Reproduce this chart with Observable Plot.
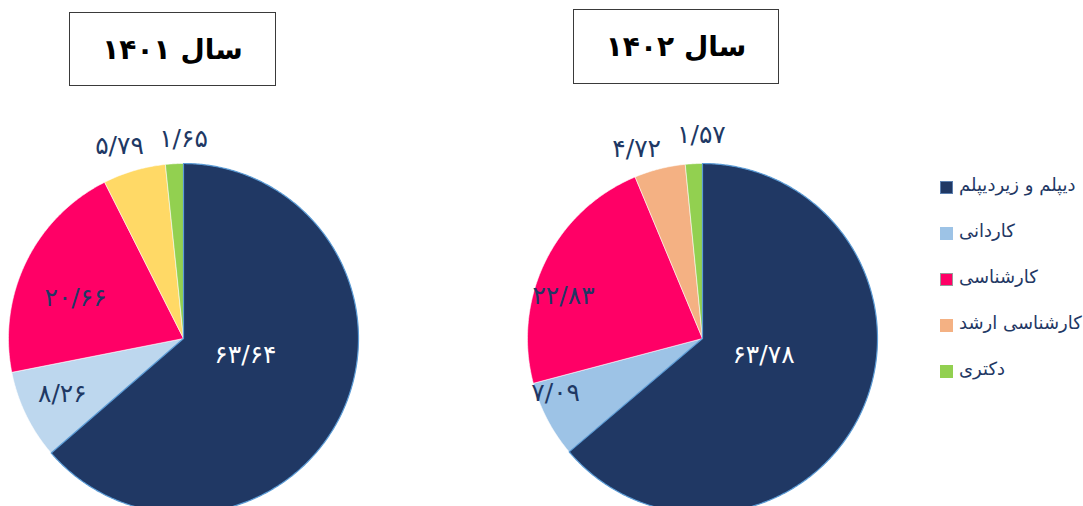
<!DOCTYPE html>
<html><head><meta charset="utf-8">
<script src="https://cdn.jsdelivr.net/npm/d3@7"></script>
<script src="https://cdn.jsdelivr.net/npm/@observablehq/plot@0.6"></script>
<style>
html,body{margin:0;padding:0;background:#fff;overflow:hidden;}
#wrap{position:relative;width:1083px;height:506px;overflow:hidden;font-family:"DejaVu Sans",sans-serif;}
#wrap svg{position:absolute;left:0;top:0;}
.title{position:absolute;border:1px solid #3a3a3a;background:#fff;display:flex;align-items:center;justify-content:center;font-weight:bold;font-size:28px;color:#000;direction:rtl;}
#legend{position:absolute;left:940px;top:174px;}
.item{height:46px;display:flex;align-items:flex-start;color:#1f3864;font-size:18px;}
.sw{width:13px;height:13px;margin-top:7px;margin-right:6px;box-sizing:border-box;}
.lt{direction:rtl;white-space:nowrap;}
</style></head>
<body><div id="wrap"></div>
<script>
// ---- data ----
const categories = ["دیپلم و زیردیپلم", "کاردانی", "کارشناسی", "کارشناسی ارشد", "دکتری"];
const years = ["۱۴۰۱", "۱۴۰۲"];
const values1401 = [63.64, 8.26, 20.66, 5.79, 1.65];
const values1402 = [63.78, 7.09, 22.83, 4.72, 1.57];

// ---- styles / layout ----
const colors1401 = ["#203864", "#BDD7EE", "#FF0066", "#FFD966", "#92D050"];
const colors1402 = ["#203864", "#9DC3E6", "#FF0066", "#F4B183", "#92D050"];
// label placement: radius (fraction of pie radius) and angle (degrees clockwise from top)
const labelRadius1401 = [0.37, 0.765, 0.654, 1.146, 1.131];
const labelAngle1401 = [107, 244.8, 289.4, 341.4, 0];
const labelRadius1402 = [0.365, 0.90, 0.828, 1.138, 1.149];
const labelAngle1402 = [107.3, 248.8, 286.4, 340.7, 359.7];
const R = 175, cxPx = [183, 702], cyPx = 338, W = 1083, H = 506;

const faDigits = "۰۱۲۳۴۵۶۷۸۹";
const toFa = s => String(s).replace(/\d/g, d => faDigits[+d]).replace(".", "/");

const pies = [
  {values: values1401, colors: colors1401, lr: labelRadius1401, la: labelAngle1401, cx: 0},
  {values: values1402, colors: colors1402, lr: labelRadius1402, la: labelAngle1402, cx: (cxPx[1] - cxPx[0]) / R}
];

const polys = [], labels = [];
pies.forEach((p, pi) => {
  const arcs = d3.pie().sort(null)(p.values);
  arcs.forEach((a, i) => {
    const key = pi + "-" + i;
    const pts = [{key, x: p.cx, y: 0}];
    const n = Math.max(2, Math.ceil((a.endAngle - a.startAngle) / (Math.PI / 360)));
    for (let k = 0; k <= n; k++) {
      const t = a.startAngle + (a.endAngle - a.startAngle) * k / n;
      pts.push({key, x: p.cx + Math.sin(t), y: Math.cos(t)});
    }
    pts.push({key, x: p.cx, y: 0});
    pts.forEach(q => { q.fill = p.colors[i]; q.stroke = i === 0 ? "#5B9BD5" : "rgba(255,255,255,0.7)"; q.sw = i === 0 ? 1.2 : 0.8; q.order = i === 0 ? 1 : 0; });
    polys.push(...pts);
    const m = p.la[i] * Math.PI / 180;
    labels.push({x: p.cx + p.lr[i] * Math.sin(m), y: p.lr[i] * Math.cos(m), text: toFa(p.values[i]), color: i === 0 ? "#ffffff" : "#203864"});
  });
});
polys.sort((a, b) => a.order - b.order);

const chart = Plot.plot({
  width: W, height: H, margin: 0,
  style: {background: "transparent", overflow: "hidden"},
  x: {domain: [-cxPx[0] / R, (W - cxPx[0]) / R], axis: null},
  y: {domain: [-(H - cyPx) / R, cyPx / R], axis: null},
  color: {type: "identity"},
  marks: [
    Plot.line(polys, {x: "x", y: "y", z: "key", fill: "fill", stroke: "stroke", strokeWidth: "sw", curve: "linear"}),
    Plot.text(labels, {x: "x", y: "y", text: "text", fill: "color", fontSize: 25, fontFamily: "DejaVu Sans", textAnchor: "middle", dy: -2})
  ]
});
const wrap = document.getElementById("wrap");
wrap.appendChild(chart);

// titles
const boxes = [{l: 69, t: 12, w: 205, h: 72}, {l: 573, t: 9, w: 204, h: 73}];
years.forEach((y, i) => {
  const d = document.createElement("div");
  d.className = "title";
  Object.assign(d.style, {left: boxes[i].l + "px", top: boxes[i].t + "px", width: boxes[i].w + "px", height: boxes[i].h + "px"});
  d.textContent = "سال " + y;
  wrap.appendChild(d);
});

// legend
const leg = document.createElement("div");
leg.id = "legend";
categories.forEach((c, i) => {
  const it = document.createElement("div"); it.className = "item";
  const sw = document.createElement("div"); sw.className = "sw";
  sw.style.background = colors1402[i];
  if (i === 2) sw.style.border = "1px solid #999";
  if (i === 0) sw.style.border = "1px solid #5B7FB0";
  const t = document.createElement("span"); t.className = "lt"; t.textContent = c;
  it.appendChild(sw); it.appendChild(t); leg.appendChild(it);
});
wrap.appendChild(leg);
</script></body></html>
